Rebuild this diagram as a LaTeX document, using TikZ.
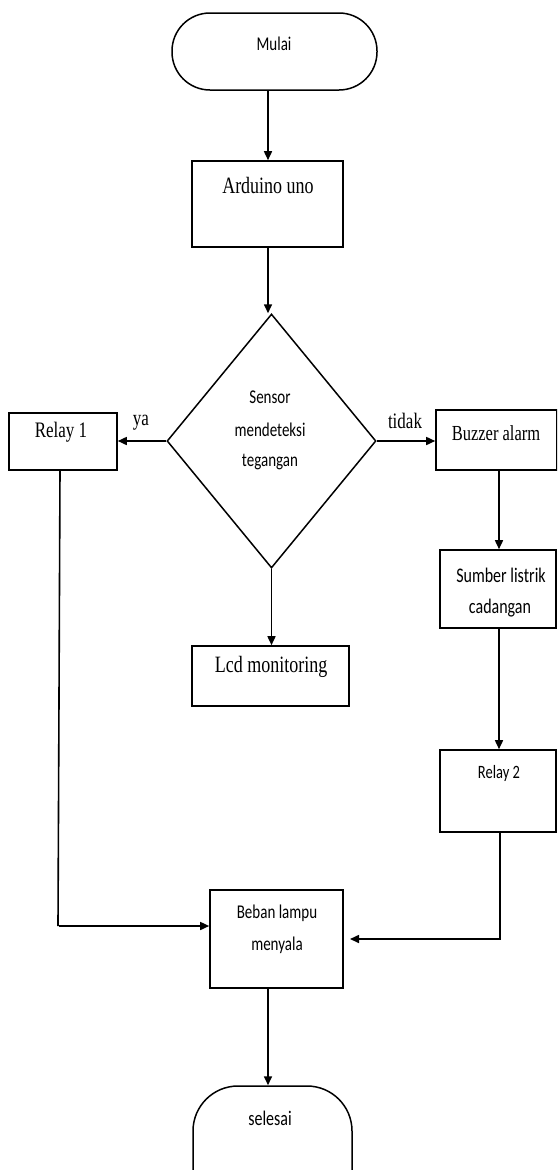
\documentclass[tikz,border=0pt]{standalone}
\usepackage{fontspec}
\usepackage{graphicx}
\setmainfont{Carlito}
\newfontfamily\serifface{Liberation Serif}
\usetikzlibrary{shapes.geometric,arrows.meta}
\newcommand\stretchtxt[1]{\scalebox{1}[1.3]{#1}}
\tikzset{
  box/.style={draw, line width=1.6pt, inner sep=0pt, rectangle},
  term/.style={draw, line width=1.5pt, inner sep=0pt, rectangle, rounded corners=38pt},
  conn/.style={line width=1.6pt, -{Triangle[length=9pt,width=8pt]}},
  plain/.style={line width=1.6pt},
  sanstxt/.style={inner sep=0pt, font=\fontsize{15}{18}\selectfont},
  seriftxt/.style={inner sep=0pt, font=\serifface\fontsize{18}{21}\selectfont},
}
\begin{document}
\begin{tikzpicture}[x=1pt,y=-1pt]
\useasboundingbox (0,0) rectangle (557,1170);
\clip (0,0) rectangle (557,1170);
% shapes
\node[term, minimum width=205pt, minimum height=77pt] (mulai) at (274.5,51.5) {};
\node[box, minimum width=151pt, minimum height=86pt] (ard) at (267.5,204) {};
\node[draw, diamond, line width=1.5pt, inner sep=0pt, minimum width=209pt, minimum height=254pt] (dia) at (271.5,441) {};
\node[box, minimum width=108pt, minimum height=57pt] (r1) at (63,441.5) {};
\node[box, minimum width=121pt, minimum height=60pt] (buz) at (496.5,440) {};
\node[box, minimum width=157pt, minimum height=60pt] (lcd) at (270.5,676) {};
\node[box, minimum width=116pt, minimum height=78pt] (sum) at (498,589) {};
\node[box, minimum width=116pt, minimum height=82pt] (r2) at (498,791) {};
\node[box, minimum width=133pt, minimum height=98pt] (beb) at (276.5,939) {};
\node[term, minimum width=159pt, minimum height=150pt, rounded corners=45pt] (sel) at (272.5,1161) {};
% texts
\node[sanstxt] (tmulai) at (274,44) {\stretchtxt{Mulai}};
\node[seriftxt] (tard) at (268,185) {\stretchtxt{Arduino uno}};
\node[sanstxt] (td1) at (270,397) {\stretchtxt{Sensor}};
\node[sanstxt] (td2) at (270,430) {\stretchtxt{mendeteksi}};
\node[sanstxt] (td3) at (270,462) {\stretchtxt{tegangan}};
\node[seriftxt, font=\serifface\fontsize{17}{20}\selectfont] (tya) at (141,423) {\stretchtxt{ya}};
\node[seriftxt, font=\serifface\fontsize{17}{20}\selectfont] (ttidak) at (405,421) {\stretchtxt{tidak}};
\node[seriftxt, font=\serifface\fontsize{17}{20}\selectfont] (tr1) at (61,432) {\stretchtxt{Relay 1}};
\node[seriftxt, font=\serifface\fontsize{16.5}{20}\selectfont] (tbuz) at (496,433) {\stretchtxt{Buzzer alarm}};
\node[seriftxt] (tlcd) at (271,667) {\stretchtxt{Lcd monitoring}};
\node[sanstxt, font=\fontsize{16}{19}\selectfont] (ts1) at (501,575) {\stretchtxt{Sumber listrik}};
\node[sanstxt, font=\fontsize{16}{19}\selectfont] (ts2) at (500,608) {\stretchtxt{cadangan}};
\node[sanstxt, font=\fontsize{14.5}{17}\selectfont] (tr2) at (499,773) {\stretchtxt{Relay 2}};
\node[sanstxt] (tb1) at (277,913) {\stretchtxt{Beban lampu}};
\node[sanstxt] (tb2) at (277,945) {\stretchtxt{menyala}};
\node[sanstxt, font=\fontsize{16}{19}\selectfont] (tsel) at (270,1118) {\stretchtxt{selesai}};
% connectors
\coordinate (a1) at (268,90);
\draw[conn] (a1) -- (a1 |- ard.north);
\coordinate (a2) at (268,247);
\draw[conn] (a2) -- (a2 |- dia.north);
\draw[conn] (dia.south) -- (dia.south |- lcd.north);
\draw[conn] (dia.west) -- (dia.west -| r1.east);
\draw[conn] (dia.east) -- (dia.east -| buz.west);
\coordinate (b1) at (499,470);
\draw[conn] (b1) -- (b1 |- sum.north);
\coordinate (b2) at (499,628);
\draw[conn] (b2) -- (b2 |- r2.north);
\coordinate (b3) at (500,832);
\coordinate (b4) at (500,939);
\coordinate (b5) at (350,939);
\draw[conn] (b3) -- (b4) -- (b5);
\coordinate (c1) at (60,470);
\coordinate (c2) at (58,926);
\draw[plain] (c1) -- (c2);
\coordinate (c3) at (59,926);
\draw[conn] (c3) -- (c3 -| beb.west);
\coordinate (d1) at (268,988);
\draw[conn] (d1) -- (d1 |- sel.north);
\end{tikzpicture}
\end{document}
